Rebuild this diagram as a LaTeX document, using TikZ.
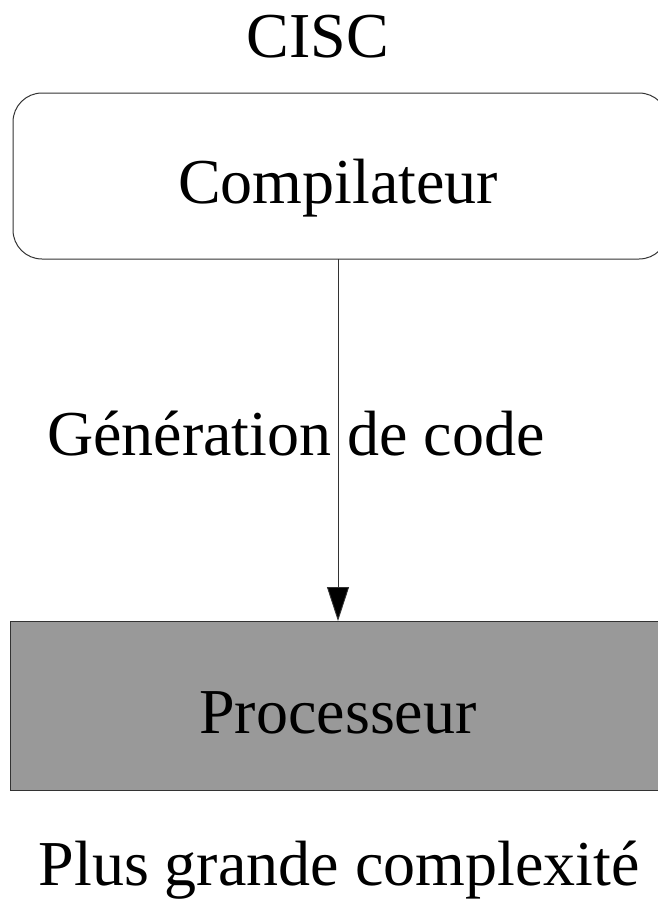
\documentclass[tikz,border=0pt]{standalone}
\usepackage{fontspec}
\setmainfont{Liberation Serif}
\usetikzlibrary{arrows.meta}
\definecolor{boxgray}{HTML}{999999}
\tikzset{
  lbl/.style={font=\fontsize{64}{70}\selectfont, inner sep=0pt, anchor=base},
  boxline/.style={draw=black!80, line width=1pt},
}
\begin{document}
\begin{tikzpicture}[x=1pt,y=-1pt]
\useasboundingbox (0,0) rectangle (657,902);
\node[lbl] (cisc) at (318,57) {CISC};
\node[boxline, rounded corners=29pt, minimum width=655pt, minimum height=166pt, inner sep=0pt] (comp) at (340.5,176) {};
\node[lbl] (comptxt) at (338,203) {Compilateur};
\node[boxline, fill=boxgray, minimum width=658pt, minimum height=169pt, inner sep=0pt] (proc) at (339,705.5) {};
\node[lbl] (proctxt) at (338,733) {Processeur};
\node[lbl, anchor=base west] (gen) at (47,455) {Génération de code};
\node[lbl] (plus) at (339,885) {Plus grande complexité};
\coordinate (top) at (338,259);
\coordinate (bot) at (338,621);
\draw[line width=0.9pt, black!80, -{Triangle[length=34pt,width=22pt,fill=black]}] (top) -- (bot);
\end{tikzpicture}
\end{document}
